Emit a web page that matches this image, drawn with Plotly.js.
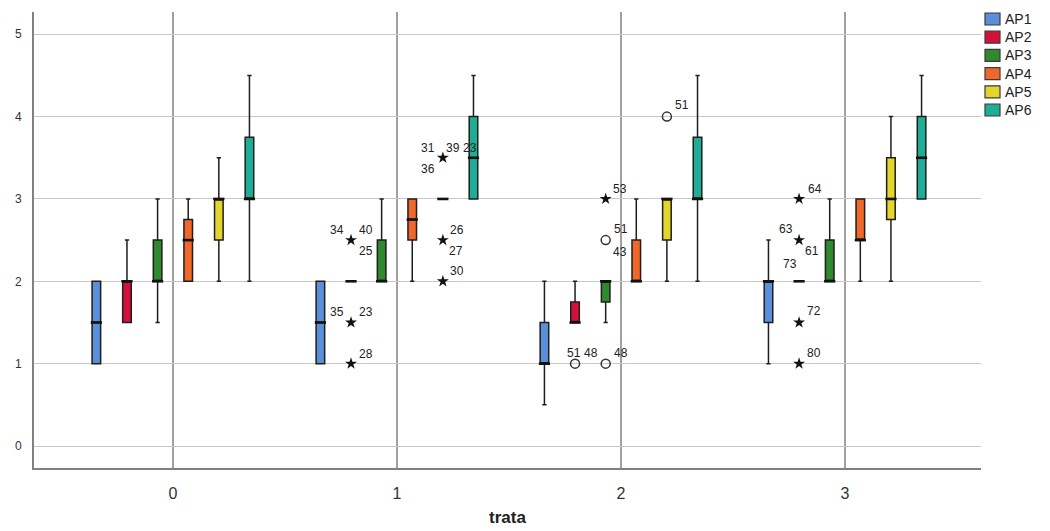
<!DOCTYPE html>
<html><head><meta charset="utf-8">
<script src="https://cdn.plot.ly/plotly-3.0.1.min.js"></script>
<style>html,body{margin:0;padding:0;background:#fff}</style>
</head><body><div id="chart" style="width:1050px;height:531px"></div>
<script>
// ---- data ----
const trata = [0, 1, 2, 3];
const tickLabels = ['0', '1', '2', '3'];
const seriesNames = ['AP1', 'AP2', 'AP3', 'AP4', 'AP5', 'AP6'];

// rows = series AP1..AP6, columns = trata 0..3
const lowerFence = [
  [1, 1, 0.5, 1],
  [1.5, 2, 1.5, 2],
  [1.5, 2, 1.5, 2],
  [2, 2, 2, 2],
  [2, 3, 2, 2],
  [2, 3, 2, 3]
];
const q1 = [
  [1, 1, 1, 1.5],
  [1.5, 2, 1.5, 2],
  [2, 2, 1.75, 2],
  [2, 2.5, 2, 2.5],
  [2.5, 3, 2.5, 2.75],
  [3, 3, 3, 3]
];
const median = [
  [1.5, 1.5, 1, 2],
  [2, 2, 1.5, 2],
  [2, 2, 2, 2],
  [2.5, 2.75, 2, 2.5],
  [3, 3, 3, 3],
  [3, 3.5, 3, 3.5]
];
const q3 = [
  [2, 2, 1.5, 2],
  [2, 2, 1.75, 2],
  [2.5, 2.5, 2, 2.5],
  [2.75, 3, 2.5, 3],
  [3, 3, 3, 3.5],
  [3.75, 4, 3.75, 4]
];
const upperFence = [
  [2, 2, 2, 2.5],
  [2.5, 2, 2, 2],
  [3, 3, 2, 3],
  [3, 3, 3, 3],
  [3.5, 3, 3, 4],
  [4.5, 4.5, 4.5, 4.5]
];

// outliers
const outlierTrata  = [1, 1, 1, 1, 1, 1, 2, 2, 2, 2, 2, 3, 3, 3, 3];
const outlierSeries = [1, 1, 1, 4, 4, 4, 1, 2, 2, 2, 4, 1, 1, 1, 1];
const outlierValue  = [2.5, 1.5, 1, 3.5, 2.5, 2, 1, 3, 2.5, 1, 4, 3, 2.5, 1.5, 1];
const outlierExtreme = [true, true, true, true, true, true, false, true, false, false, false, true, true, true, true];
const outlierLabels = [
  ['34', '40', '25'], ['35', '23'], ['28'],
  ['31', '39', '23', '36'], ['26', '27'], ['30'],
  ['51', '48'], ['53'], ['51', '43'], ['48'], ['51'],
  ['64'], ['63', '61', '73'], ['72'], ['80']
];

// ---- style ----
const seriesColors = ['#5B8FD9', '#D4113B', '#2F8A2F', '#F0672A', '#E4D52B', '#1DAE95'];
// label centre offsets in px relative to the marker (dx, dy-down)
const labelShifts = [
  [[-14, -10], [15, -10], [15, 11]], [[-14, -10], [15, -10]], [[15, -10]],
  [[-15, -10], [10, -10], [27, -10], [-15, 11]], [[14, -10], [13, 11]], [[14, -10]],
  [[-1, -11], [16, -11]], [[14, -10]], [[15, -11], [14, 12]], [[15, -11]], [[15, -12]],
  [[16, -10]], [[-13, -11], [13, 11], [-9, 24]], [[15, -11]], [[15, -11]]
];
const BOXGAP = 0.18, BOXGROUPGAP = 0.72;
const W = 1050, H = 531, M = { l: 34, r: 69, t: 12, b: 63 };
const plotW = W - M.l - M.r, plotH = H - M.t - M.b;
function groupOffset(i) { return (-0.5 + (i + 0.5) / seriesNames.length) * (1 - BOXGAP); }

const traces = seriesNames.map((name, i) => ({
  type: 'box', name: name, x: trata,
  q1: q1[i], median: median[i], q3: q3[i],
  lowerfence: lowerFence[i], upperfence: upperFence[i],
  fillcolor: seriesColors[i],
  line: { color: '#1e1e1e', width: 1.5 },
  whiskerwidth: 0.5, boxpoints: false, hoverinfo: 'skip', showlegend: false
}));

// thick median bars (SPSS style)
const medX = [], medY = [];
seriesNames.forEach((n, i) => trata.forEach((t, c) => { medX.push(t + groupOffset(i)); medY.push(median[i][c]); }));
traces.push({
  type: 'scatter', mode: 'markers', showlegend: false, hoverinfo: 'skip',
  x: medX, y: medY,
  marker: { symbol: 'line-ew', size: 8, line: { width: 2.6, color: '#111' } }
});

const ox = outlierTrata.map((t, k) => t + groupOffset(outlierSeries[k]));
const starIdx = [], circIdx = [];
outlierExtreme.forEach((e, k) => (e ? starIdx : circIdx).push(k));
traces.push({
  type: 'scatter', mode: 'markers', showlegend: false, hoverinfo: 'skip',
  x: starIdx.map(k => ox[k]), y: starIdx.map(k => outlierValue[k]),
  marker: { symbol: 'star', size: 9, color: '#111' }
});
traces.push({
  type: 'scatter', mode: 'markers', showlegend: false, hoverinfo: 'skip',
  x: circIdx.map(k => ox[k]), y: circIdx.map(k => outlierValue[k]),
  marker: { symbol: 'circle-open', size: 9, color: '#333', line: { width: 1.5, color: '#333' } }
});

const annotations = [];
outlierLabels.forEach((labs, k) => {
  labs.forEach((txt, j) => {
    annotations.push({
      x: ox[k], y: outlierValue[k], xref: 'x', yref: 'y', text: txt, showarrow: false,
      xshift: labelShifts[k][j][0], yshift: -labelShifts[k][j][1],
      font: { family: 'Liberation Sans, Arial, sans-serif', size: 12, color: '#222' }
    });
  });
});

// legend (SPSS style: swatch + text, tight spacing)
const px2x = p => (p - M.l) / plotW, px2y = p => (H - M.b - p) / plotH;
const shapes = [];
seriesNames.forEach((name, i) => {
  const cy = 19 + i * 18.2;
  shapes.push({
    type: 'rect', xref: 'paper', yref: 'paper',
    x0: px2x(985), x1: px2x(1000), y0: px2y(cy + 6), y1: px2y(cy - 6),
    fillcolor: seriesColors[i], line: { color: '#3a3a3a', width: 1.2 }
  });
  annotations.push({
    xref: 'paper', yref: 'paper', x: px2x(1003), y: px2y(cy), xanchor: 'left', yanchor: 'middle',
    text: name, showarrow: false, font: { size: 14, color: '#222' }
  });
});

const layout = {
  width: W, height: H,
  margin: { l: M.l, r: M.r, t: M.t, b: M.b, autoexpand: false },
  paper_bgcolor: '#fff', plot_bgcolor: '#fff',
  boxmode: 'group', boxgap: BOXGAP, boxgroupgap: BOXGROUPGAP,
  font: { family: 'Liberation Sans, Arial, sans-serif', color: '#222' },
  xaxis: {
    range: [-0.62, 3.607], tickvals: trata, ticktext: tickLabels,
    showgrid: true, gridcolor: '#a0a0a0', gridwidth: 2,
    showline: true, linecolor: '#808080', linewidth: 2, zeroline: false,
    ticks: '', ticklabelstandoff: 10,
    tickfont: { family: 'Liberation Sans Narrow, Liberation Sans, Arial, sans-serif', size: 16, color: '#333' },
    title: { text: 'trata', font: { size: 17, color: '#222', family: 'Liberation Sans Narrow, Liberation Sans, Arial, sans-serif', weight: 'bold' }, standoff: 10 }
  },
  yaxis: {
    range: [-0.267, 5.27], dtick: 1, tick0: 0,
    showgrid: true, gridcolor: '#c8c8c8', gridwidth: 1,
    showline: true, linecolor: '#808080', linewidth: 2, zeroline: false,
    ticks: '', ticklabelstandoff: 8,
    tickfont: { size: 12, color: '#333' }
  },
  shapes: shapes,
  annotations: annotations,
  showlegend: false
};

Plotly.newPlot('chart', traces, layout, { displayModeBar: false, staticPlot: true });
</script>
</body></html>
